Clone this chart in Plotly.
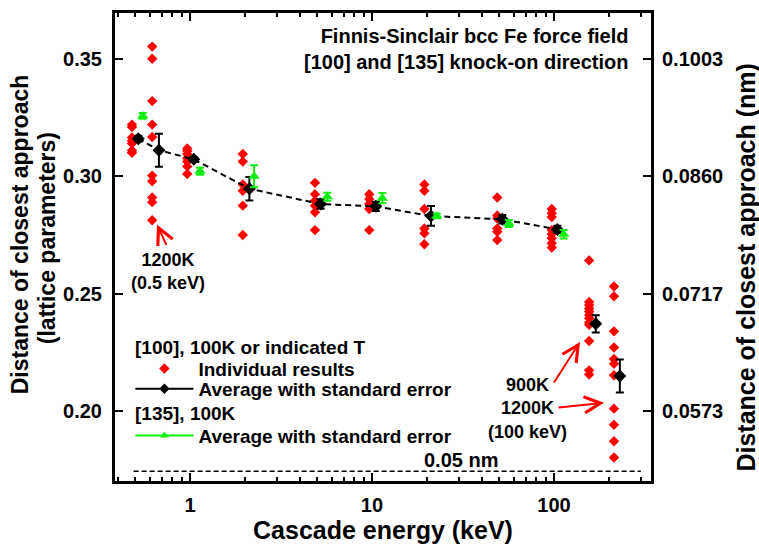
import math
import plotly.graph_objects as go

FE_A = 0.2866  # nm per lattice parameter (bcc Fe)

# ---- data ----
ind_energy = [0.48, 0.62, 0.966, 1.95, 4.86, 9.66, 19.4, 48.8, 97.2, 156, 213.6]
ind_values = [
    [0.3220, 0.3210, 0.3165, 0.3150, 0.3140, 0.3110, 0.3100],
    [0.3552, 0.3500, 0.3320, 0.3220, 0.3167, 0.3003, 0.2979, 0.2910, 0.2890, 0.2813],
    [0.3118, 0.3108, 0.3095, 0.3077, 0.3063, 0.3042, 0.3010],
    [0.3095, 0.3063, 0.2965, 0.2938, 0.2875, 0.2750],
    [0.2972, 0.2924, 0.2896, 0.2875, 0.2847, 0.2771],
    [0.2924, 0.2903, 0.2882, 0.2861, 0.2771],
    [0.2965, 0.2938, 0.2861, 0.2778, 0.2757, 0.2711],
    [0.2910, 0.2833, 0.2820, 0.2778, 0.2764, 0.2729],
    [0.2861, 0.2843, 0.2827, 0.2771, 0.2753, 0.2736, 0.2715, 0.2697],
    [0.2642, 0.2465, 0.2452, 0.2437, 0.2424, 0.2410, 0.2396, 0.2378, 0.2368, 0.2299, 0.2174, 0.2156],
    [0.2531, 0.2489, 0.2340, 0.2271, 0.2222, 0.2202, 0.2153, 0.2011, 0.1942, 0.1872, 0.1803],
]

avg100_energy = [0.52, 0.675, 1.05, 2.12, 5.22, 10.5, 21.1, 52, 104.3, 169.6, 230]
avg100_value = [0.3160, 0.3111, 0.3072, 0.2947, 0.2882, 0.2872, 0.2831, 0.2817, 0.2774, 0.2372, 0.2150]
avg100_err = [0.0012, 0.0070, 0.0010, 0.0050, 0.0020, 0.0020, 0.0042, 0.0018, 0.0015, 0.0037, 0.0070]
n_connected = 9  # dashed line joins the 100K averages only

avg135_energy = [0.55, 1.135, 2.25, 5.68, 11.4, 22.7, 56.5, 113]
avg135_value = [0.3257, 0.3021, 0.3000, 0.2913, 0.2907, 0.2831, 0.2799, 0.2753]
avg135_err = [0.0012, 0.0015, 0.0047, 0.0017, 0.0022, 0.0010, 0.0015, 0.0018]

ref_nm = 0.05
ref_energy = [0.49, 300]

y_tickvals = [0.20, 0.25, 0.30, 0.35]
y_ticktext = ["0.20", "0.25", "0.30", "0.35"]
y2_ticktext = ["0.0573", "0.0717", "0.0860", "0.1003"]
x_tickvals = [1, 10, 100]
x_ticktext = ["1", "10", "100"]
x_minor = [0.4, 0.5, 0.6, 0.7, 0.8, 0.9, 2, 3, 4, 5, 6, 7, 8, 9,
           20, 30, 40, 50, 60, 70, 80, 90, 200, 300]

y_range = [0.1703, 0.3695]
x_range_log = [-0.412, 2.533]

FONT = "Liberation Sans, Arial, sans-serif"
RED = "#ff0000"
GREEN = "#11ee11"

# plot-area geometry in pixels (for placing free text)
L, R, T, B = 115, 651, 10, 488


def px(xp):
    return (xp - L) / (R - L)


def py(yp):
    return 1 - (yp - T) / (B - T)


def f(size):
    return dict(size=size, color="black", family=FONT, weight="bold")


fig = go.Figure()

# 0.05 nm reference line
fig.add_trace(go.Scatter(
    x=ref_energy, y=[ref_nm / FE_A] * 2, mode="lines",
    line=dict(color="black", width=1.5, dash="5px,3px"),
    showlegend=False, hoverinfo="skip"))

# individual results
xs, ys = [], []
for e, vals in zip(ind_energy, ind_values):
    xs += [e] * len(vals)
    ys += vals
fig.add_trace(go.Scatter(
    x=xs, y=ys, mode="markers",
    marker=dict(symbol="diamond", size=8, color=RED),
    name="Individual results", legend="legend"))

# dashed connection
fig.add_trace(go.Scatter(
    x=avg100_energy[:n_connected], y=avg100_value[:n_connected], mode="lines",
    line=dict(color="black", width=2, dash="6px,4px"),
    showlegend=False, hoverinfo="skip"))

# [100] averages
fig.add_trace(go.Scatter(
    x=avg100_energy, y=avg100_value, mode="markers",
    marker=dict(symbol="diamond", size=10, color="black"),
    error_y=dict(type="data", array=avg100_err, color="black", thickness=2, width=4),
    showlegend=False))
fig.add_trace(go.Scatter(
    x=[None], y=[None], mode="lines+markers",
    line=dict(color="black", width=2),
    marker=dict(symbol="diamond", size=8, color="black"),
    name="Average with standard error", legend="legend2"))

# [135] averages
fig.add_trace(go.Scatter(
    x=avg135_energy, y=avg135_value, mode="markers",
    marker=dict(symbol="triangle-up", size=10, color=GREEN),
    error_y=dict(type="data", array=avg135_err, color=GREEN, thickness=2, width=4),
    showlegend=False))
fig.add_trace(go.Scatter(
    x=[None], y=[None], mode="lines+markers",
    line=dict(color=GREEN, width=2),
    marker=dict(symbol="triangle-up", size=8, color=GREEN),
    name="Average with standard error", legend="legend3"))

# right axis dummy trace to activate yaxis2
fig.add_trace(go.Scatter(x=[None], y=[None], yaxis="y2", showlegend=False))

axis_common = dict(showline=True, linecolor="black", linewidth=3, ticks="inside",
                   tickcolor="black", tickwidth=2, ticklen=8, showgrid=False,
                   zeroline=False, tickfont=f(20))

leg_common = dict(xanchor="left", yanchor="middle", bgcolor="rgba(0,0,0,0)",
                  itemwidth=58, font=f(19))

fig.update_layout(
    width=759, height=547,
    margin=dict(l=L, r=759 - R, t=T, b=547 - B),
    paper_bgcolor="white", plot_bgcolor="white",
    font=dict(family=FONT, color="black", weight="bold"),
    xaxis=dict(type="log", range=x_range_log, tickmode="array", tickvals=x_tickvals,
               ticktext=x_ticktext, mirror="ticks", ticklabelstandoff=4,
               minor=dict(tickmode="array", tickvals=x_minor, ticks="inside", ticklen=4,
                          tickwidth=2, tickcolor="black", showgrid=False),
               title=dict(text="Cascade energy (keV)", standoff=3, font=f(25)),
               **axis_common),
    yaxis=dict(range=y_range, tickmode="array", tickvals=y_tickvals, ticktext=y_ticktext,
               mirror=True, ticklabelstandoff=6, **axis_common),
    yaxis2=dict(overlaying="y", side="right",
                range=[y_range[0] * FE_A, y_range[1] * FE_A], tickmode="array",
                tickvals=[v * FE_A for v in y_tickvals], ticktext=y2_ticktext,
                ticklabelstandoff=4, **axis_common),
    legend=dict(x=px(130.4), y=py(373.3), **leg_common),
    legend2=dict(x=px(130.4), y=py(394), **leg_common),
    legend3=dict(x=px(130.4), y=py(441.7), **leg_common),
)

# axis titles placed as free text
fig.add_annotation(text="Distance of closest approach", textangle=-90, xref="paper",
                   yref="paper", x=px(20), y=py(236), xanchor="center", yanchor="middle",
                   showarrow=False, font=f(23))
fig.add_annotation(text="(lattice parameters)", textangle=-90, xref="paper",
                   yref="paper", x=px(47), y=py(240), xanchor="center", yanchor="middle",
                   showarrow=False, font=f(23))
fig.add_annotation(text="Distance of closest approach (nm)", textangle=-90, xref="paper",
                   yref="paper", x=px(746), y=py(270), xanchor="center", yanchor="middle",
                   showarrow=False, font=f(25))

# legend group headers
fig.add_annotation(text="[100], 100K or indicated T", xref="paper", yref="paper",
                   x=px(133), y=py(351.7), xanchor="left", yanchor="middle",
                   showarrow=False, font=f(19))
fig.add_annotation(text="[135], 100K", xref="paper", yref="paper",
                   x=px(133), y=py(419.3), xanchor="left", yanchor="middle",
                   showarrow=False, font=f(19))

fig.add_annotation(text="Finnis-Sinclair bcc Fe force field<br>[100] and [135] knock-on direction",
                   xref="paper", yref="paper", x=px(631), y=py(46.7), xanchor="right",
                   yanchor="middle", align="right", showarrow=False, font=f(20))
fig.add_annotation(text="1200K<br>(0.5 keV)", xref="paper", yref="paper",
                   x=px(168), y=py(274), xanchor="center", yanchor="middle",
                   showarrow=False, font=f(18), align="center")
fig.add_annotation(text="900K<br>1200K<br>(100 keV)", xref="paper", yref="paper",
                   x=px(527.5), y=py(414), xanchor="center", yanchor="middle",
                   showarrow=False, font=f(18), align="center")
fig.add_annotation(text="0.05 nm", xref="paper", yref="paper",
                   x=px(461), y=py(466.7), xanchor="center", yanchor="middle",
                   showarrow=False, font=f(20))

# red arrows (head at data point, tail offset in pixels)
arrows = [(0.659, 0.2795, 10, 22), (139, 0.2295, -27, 42), (188.3, 0.2036, -47, 5)]
for ex, yv, ax, ay in arrows:
    fig.add_annotation(x=math.log10(ex), y=yv, xref="x", yref="y", text="",
                       showarrow=True, arrowhead=5, arrowsize=1.6, arrowwidth=2,
                       arrowcolor=RED, ax=ax, ay=ay)

fig.write_html("out.html")
